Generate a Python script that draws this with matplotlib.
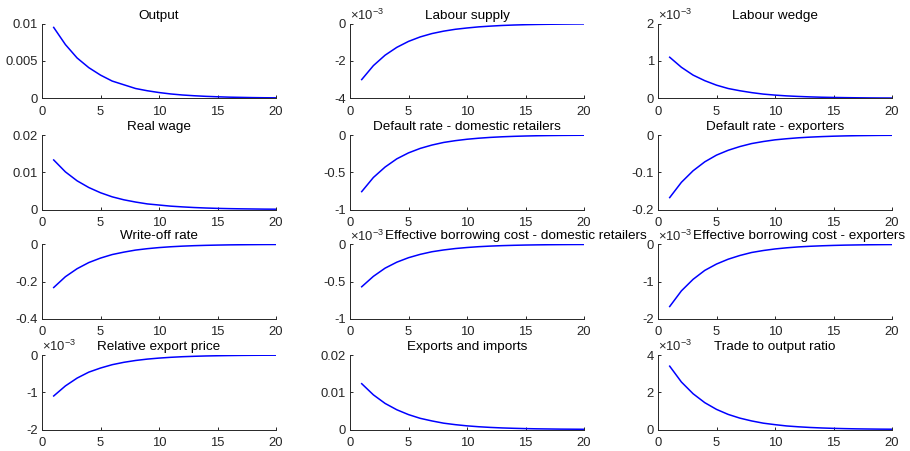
import numpy as np
import matplotlib
matplotlib.use('Agg')
import matplotlib.pyplot as plt
from matplotlib.ticker import FuncFormatter

plt.rcParams['font.family'] = ['Liberation Sans', 'DejaVu Sans']
plt.rcParams['mathtext.fontset'] = 'custom'
plt.rcParams['mathtext.rm'] = 'Liberation Sans'
plt.rcParams['axes.unicode_minus'] = False

periods = np.arange(1, 21)

titles = [
    'Output', 'Labour supply', 'Labour wedge',
    'Real wage', 'Default rate - domestic retailers', 'Default rate - exporters',
    'Write-off rate', 'Effective borrowing cost - domestic retailers',
    'Effective borrowing cost - exporters',
    'Relative export price', 'Exports and imports', 'Trade to output ratio',
]

output = [0.0095, 0.0072, 0.0054, 0.0041, 0.0031, 0.0023, 0.0018, 0.0013, 0.0010, 0.00076,
          0.00057, 0.00043, 0.00033, 0.00025, 0.00019, 0.00014, 0.00011, 0.00008, 0.00006, 0.00005]
labour_supply = [-3.0e-3, -2.25e-3, -1.69e-3, -1.27e-3, -0.95e-3, -0.71e-3, -0.53e-3, -0.40e-3,
                 -0.30e-3, -0.23e-3, -0.17e-3, -0.13e-3, -0.095e-3, -0.071e-3, -0.053e-3,
                 -0.040e-3, -0.030e-3, -0.023e-3, -0.017e-3, -0.013e-3]
labour_wedge = [1.10e-3, 0.83e-3, 0.62e-3, 0.47e-3, 0.35e-3, 0.26e-3, 0.20e-3, 0.15e-3, 0.11e-3,
                0.083e-3, 0.062e-3, 0.047e-3, 0.035e-3, 0.026e-3, 0.020e-3, 0.015e-3, 0.011e-3,
                0.008e-3, 0.006e-3, 0.005e-3]
real_wage = [0.0133, 0.0101, 0.0077, 0.0059, 0.0045, 0.0034, 0.0026, 0.0020, 0.0015, 0.0012,
             0.0009, 0.0007, 0.00053, 0.0004, 0.0003, 0.00023, 0.00018, 0.00014, 0.0001, 0.00008]
default_dom = [-0.76, -0.57, -0.43, -0.32, -0.24, -0.18, -0.135, -0.10, -0.076, -0.057,
               -0.043, -0.032, -0.024, -0.018, -0.0135, -0.010, -0.0076, -0.0057, -0.0043, -0.0032]
default_exp = [-0.168, -0.127, -0.096, -0.072, -0.054, -0.041, -0.031, -0.023, -0.0175, -0.013,
               -0.010, -0.0075, -0.0057, -0.0043, -0.0032, -0.0024, -0.0018, -0.0014, -0.0010, -0.0008]
write_off = [-0.232, -0.174, -0.131, -0.098, -0.074, -0.055, -0.042, -0.031, -0.0235, -0.0176,
             -0.0132, -0.0099, -0.0074, -0.0056, -0.0042, -0.0031, -0.0024, -0.0018, -0.0013, -0.001]
rel_export_price = [-1.10e-3, -0.83e-3, -0.62e-3, -0.46e-3, -0.35e-3, -0.26e-3, -0.196e-3,
                    -0.147e-3, -0.110e-3, -0.083e-3, -0.062e-3, -0.046e-3, -0.035e-3, -0.026e-3,
                    -0.020e-3, -0.015e-3, -0.011e-3, -0.008e-3, -0.006e-3, -0.005e-3]
borrow_dom = [-0.57e-3, -0.43e-3, -0.32e-3, -0.24e-3, -0.18e-3, -0.135e-3, -0.10e-3, -0.076e-3,
              -0.057e-3, -0.043e-3, -0.032e-3, -0.024e-3, -0.018e-3, -0.0135e-3, -0.010e-3,
              -0.0076e-3, -0.0057e-3, -0.0043e-3, -0.0032e-3, -0.0024e-3]
borrow_exp = [-1.67e-3, -1.25e-3, -0.94e-3, -0.70e-3, -0.53e-3, -0.40e-3, -0.30e-3, -0.22e-3,
              -0.167e-3, -0.125e-3, -0.094e-3, -0.070e-3, -0.053e-3, -0.040e-3, -0.030e-3,
              -0.022e-3, -0.017e-3, -0.0125e-3, -0.0094e-3, -0.007e-3]
exports_imports = [0.0123, 0.0093, 0.0070, 0.0053, 0.0040, 0.0030, 0.0023, 0.0017, 0.0013, 0.00098,
                   0.00074, 0.00056, 0.00042, 0.00032, 0.00024, 0.00018, 0.00014, 0.0001, 0.00008, 0.00006]
trade_output = [3.4e-3, 2.55e-3, 1.92e-3, 1.44e-3, 1.08e-3, 0.81e-3, 0.61e-3, 0.46e-3, 0.34e-3,
                0.26e-3, 0.19e-3, 0.145e-3, 0.109e-3, 0.082e-3, 0.061e-3, 0.046e-3, 0.034e-3,
                0.026e-3, 0.019e-3, 0.015e-3]

series = [output, labour_supply, labour_wedge,
          real_wage, default_dom, default_exp,
          write_off, borrow_dom, borrow_exp,
          rel_export_price, exports_imports, trade_output]

# y ticks for each panel, and whether the axis carries a x10^-3 multiplier
yticks = [
    [0, 0.005, 0.01], [-4e-3, -2e-3, 0], [0, 1e-3, 2e-3],
    [0, 0.01, 0.02], [-1, -0.5, 0], [-0.2, -0.1, 0],
    [-0.4, -0.2, 0], [-1e-3, -0.5e-3, 0], [-2e-3, -1e-3, 0],
    [-2e-3, -1e-3, 0], [0, 0.01, 0.02], [0, 2e-3, 4e-3],
]
scaled = [False, True, True,
          False, False, False,
          False, True, True,
          True, False, True]

W, H = 910, 451
fig = plt.figure(figsize=(W / 100, H / 100), dpi=100)

col_left = [42, 350, 658]
row_top = [23.7, 135, 244.3, 355]
ax_w, ax_h = 234, 74.5

dark = '#262626'
tick_fs = 9.4
title_fs = 9.7

pairs = []
for i in range(12):
    r, c = divmod(i, 3)
    ax = fig.add_axes([col_left[c] / W, 1 - (row_top[r] + ax_h) / H, ax_w / W, ax_h / H])
    ax.plot(periods, series[i], color='blue', lw=1.1)
    ax.set_xlim(0, 20)
    ax.set_xticks([0, 5, 10, 15, 20])
    ax.set_ylim(yticks[i][0], yticks[i][-1])
    ax.set_yticks(yticks[i])
    exp_txt = None
    if scaled[i]:
        ax.yaxis.set_major_formatter(FuncFormatter(lambda v, p: '%g' % round(v * 1e3, 6)))
        exp_txt = ax.text(0.0, 1.01, '×10$^{-3}$', transform=ax.transAxes, ha='left',
                          va='bottom', fontsize=tick_fs, color=dark)
    else:
        ax.yaxis.set_major_formatter(FuncFormatter(lambda v, p: '%g' % round(v, 6)))
    for s in ['top', 'right']:
        ax.spines[s].set_visible(False)
    for s in ['left', 'bottom']:
        ax.spines[s].set_color(dark)
        ax.spines[s].set_linewidth(0.7)
    ax.tick_params(direction='in', length=2.5, width=0.7, colors=dark, labelsize=tick_fs)
    ax.tick_params(axis='x', pad=5.3)
    ax.tick_params(axis='y', pad=3)
    ttl = ax.set_title(titles[i], fontsize=title_fs, pad=3.5, color='black')
    pairs.append((ax, ttl, exp_txt))

# push a title to the right when it would run into the exponent label
renderer = fig.canvas.get_renderer()
for ax, ttl, exp_txt in pairs:
    if exp_txt is None:
        continue
    eb = exp_txt.get_window_extent(renderer)
    tb = ttl.get_window_extent(renderer)
    if tb.x0 < eb.x1:
        x_ax = ax.transAxes.inverted().transform((eb.x1 + 1, 0))[0]
        ttl.set_horizontalalignment('left')
        ttl.set_x(x_ax)

fig.savefig('out.png', dpi=100)
